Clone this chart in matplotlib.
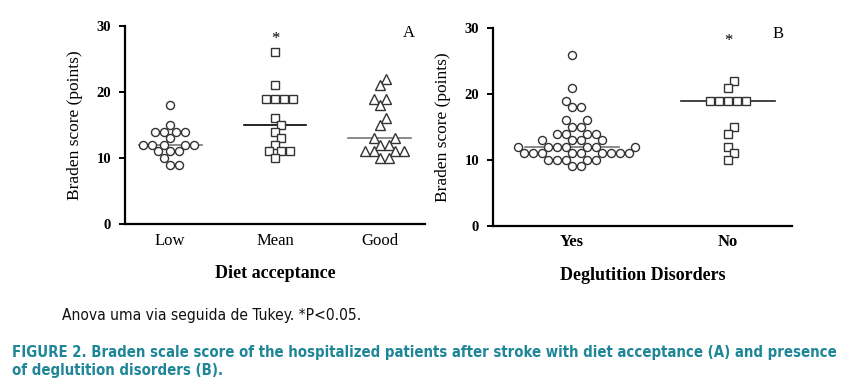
import numpy as np
import matplotlib
matplotlib.use("Agg")
import matplotlib.pyplot as plt
from matplotlib import font_manager

# ---------------- data ----------------
diet_categories = ["Low", "Mean", "Good"]
diet_low = [18, 15, 14, 14, 14, 14, 13, 12, 12, 12, 12, 12, 11, 11, 11, 10, 9, 9]
diet_mean = [26, 21, 19, 19, 19, 19, 16, 15, 14, 13, 12, 11, 11, 11, 10]
diet_good = [22, 21, 19, 19, 18, 16, 15, 13, 13, 12, 12, 11, 11, 11, 11, 10, 10]

degl_categories = ["Yes", "No"]
degl_yes = ([26, 21, 19, 18, 18, 16, 16, 15, 15] + [14] * 4 + [13] * 4 +
            [12] * 7 + [11] * 9 + [10] * 5 + [9] * 2)
degl_no = [22, 21, 19, 19, 19, 19, 19, 15, 14, 12, 11, 10]

yticks = [0, 10, 20, 30]
footnote = "Anova uma via seguida de Tukey. *P<0.05."
caption1 = ("FIGURE 2. Braden scale score of the hospitalized patients after stroke "
            "with diet acceptance (A) and presence")
caption2 = "of deglutition disorders (B)."

# ---------------- fonts ----------------
ttf = font_manager.fontManager.ttflist
available = {f.name for f in ttf}
SERIF = "Liberation Serif"
if "Liberation Sans Narrow" in available:
    NARROW, STRETCH = "Liberation Sans Narrow", "normal"
elif any(f.name == "DejaVu Sans" and f.stretch in ("condensed", 300, "semi-condensed")
         for f in ttf):
    NARROW, STRETCH = "DejaVu Sans", "condensed"
else:
    NARROW, STRETCH = "Liberation Sans", "normal"

W, H = 853, 389
fig = plt.figure(figsize=(W / 100, H / 100), dpi=100)


def swarm_offsets(ax, x0, values, diam_px):
    """Greedy beeswarm in pixel space (like seaborn's swarm)."""
    xl = ax.get_xlim(); yl = ax.get_ylim()
    bb = ax.get_window_extent()
    sx = bb.width / (xl[1] - xl[0])
    sy = bb.height / (yl[1] - yl[0])
    vals = np.asarray(values, float)
    order = np.argsort(vals, kind="stable")
    placed = []
    xs = np.zeros(len(vals))
    for i in order:
        yp = vals[i] * sy
        cands = [0.0]
        for (px, py) in placed:
            dy = abs(py - yp)
            if dy < diam_px:
                dx = np.sqrt(diam_px ** 2 - dy ** 2)
                cands += [px + dx, px - dx]
        cands = sorted(cands, key=lambda c: (abs(c), -c))
        for c in cands:
            ok = True
            for (px, py) in placed:
                if (px - c) ** 2 + (py - yp) ** 2 < diam_px ** 2 - 1e-6:
                    ok = False
                    break
            if ok:
                break
        placed.append((c, yp))
        xs[i] = x0 + c / sx
    return xs


def make_panel(rect, xlim, cats, groups, markers, sizes, linecolors, xlabel,
               panel_letter, letter_xy, star_idx, cat_weight):
    ax = fig.add_axes(rect)
    ax.set_xlim(*xlim)
    ax.set_ylim(0, 30)
    for s in ["top", "right"]:
        ax.spines[s].set_visible(False)
    for s in ["left", "bottom"]:
        ax.spines[s].set_linewidth(1.6)
        ax.spines[s].set_color("black")
    ax.set_yticks(yticks)
    ax.set_yticklabels([str(t) for t in yticks], fontfamily=SERIF,
                       fontweight="bold", fontsize=10.5)
    ax.tick_params(axis="y", length=4, width=1.4, pad=6)
    ax.set_xticks(range(len(cats)))
    ax.set_xticklabels(cats, fontfamily=SERIF, fontsize=12, fontweight=cat_weight)
    ax.tick_params(axis="x", length=0, pad=6)
    ax.set_ylabel("Braden score (points)", fontfamily=SERIF, fontsize=12.5, labelpad=10)
    ax.set_xlabel(xlabel, fontfamily=SERIF, fontsize=13, fontweight="bold", labelpad=12)
    for i, (vals, mk, ms, lc) in enumerate(zip(groups, markers, sizes, linecolors)):
        xs = swarm_offsets(ax, i, vals, 9.0)
        ax.plot(xs, vals, linestyle="none", marker=mk, markersize=ms,
                markerfacecolor="white", markeredgecolor="#333333",
                markeredgewidth=1.0, zorder=3)
        med = np.median(vals)
        ax.plot([i - 0.3, i + 0.3], [med, med], color=lc, lw=1.2, zorder=2)
    ax.text(star_idx, 28, "*", ha="center", va="center", fontfamily=SERIF,
            fontsize=12)
    ax.text(letter_xy[0], letter_xy[1], panel_letter, transform=ax.transAxes,
            ha="center", va="center", fontfamily=SERIF, fontsize=12)
    return ax


# Panel A
axA = make_panel([125 / W, 164.7 / H, 300 / W, 198.6 / H], (-0.43, 2.43),
                 diet_categories, [diet_low, diet_mean, diet_good],
                 ["o", "s", "^"], [5.8, 6.3, 6.6], ["#777777", "black", "#777777"],
                 "Diet acceptance", "A", ((409 - 125) / 300, (224.3 - 33) / 198.6),
                 1, "normal")
# Panel B
axB = make_panel([493 / W, 163.3 / H, 299 / W, 197.4 / H], (-0.506, 1.41),
                 degl_categories, [degl_yes, degl_no],
                 ["o", "s"], [5.8, 6.3], ["#777777", "#222222"],
                 "Deglutition Disorders", "B", ((778 - 493) / 299, (225.7 - 34.5) / 197.4),
                 1, "bold")

# ---- footnote and caption, fitted to measured widths ----
renderer = fig.canvas.get_renderer()


def fitted_text(x, y_base, s, target_w, **kw):
    t = fig.text(x / W, 1 - y_base / H, s, va="baseline", ha="left", **kw)
    fs = t.get_fontsize()
    w = t.get_window_extent(renderer).width
    t.set_fontsize(fs * target_w / w)
    return t


fitted_text(62, 320, footnote, 300, fontfamily=NARROW, fontstretch=STRETCH,
            fontsize=11, color="#111111")
c1 = fitted_text(12.5, 357, caption1, 826, fontfamily=NARROW, fontstretch=STRETCH,
                 fontsize=12, fontweight="bold", color="#1f8698")
fig.text(12.5 / W, 1 - 375 / H, caption2, va="baseline", ha="left",
         fontfamily=NARROW, fontstretch=STRETCH, fontsize=c1.get_fontsize(),
         fontweight="bold", color="#1f8698")

fig.savefig("out.png", dpi=100)
